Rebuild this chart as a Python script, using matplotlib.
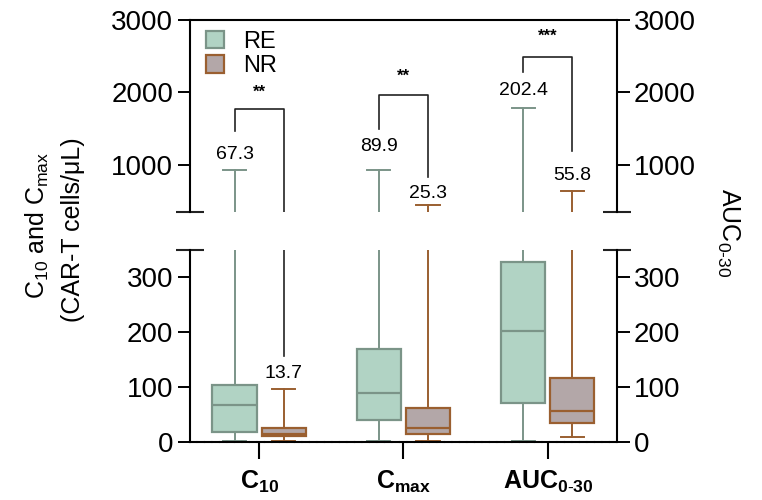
import numpy as np
import matplotlib.pyplot as plt
from matplotlib.patches import Patch

plt.rcParams['font.family'] = ['Liberation Sans', 'DejaVu Sans']
plt.rcParams['mathtext.fontset'] = 'custom'
plt.rcParams['mathtext.rm'] = 'Liberation Sans'
plt.rcParams['mathtext.it'] = 'Liberation Sans'
plt.rcParams['mathtext.bf'] = 'Liberation Sans:bold'

categories = [r'$\mathbf{C_{10}}$', r'$\mathbf{C_{max}}$', r'$\mathbf{AUC_{0\text{-}30}}$']

# box stats: min, q1, median, q3, max
re_min = [2, 1, 2]
re_q1 = [18, 41, 72]
re_med = [67.3, 89.9, 202.4]
re_q3 = [104, 170, 329]
re_max = [930, 935, 1780]

nr_min = [1, 2, 10]
nr_q1 = [11, 14, 34]
nr_med = [13.7, 25.3, 55.8]
nr_q3 = [26, 62, 117]
nr_max = [97, 440, 634]

stars = ['**', '**', '***']

re_fill, re_edge = '#b1d3c4', '#7b9488'
nr_fill, nr_edge = '#b3a7a8', '#9a5f30'

fig = plt.figure(figsize=(7.62, 5), dpi=100)
ax_top = fig.add_axes([0.249, 0.576, 0.561, 0.384])
ax_bot = fig.add_axes([0.249, 0.116, 0.561, 0.384])

x = np.arange(len(categories))
off = 0.17
bw = 0.305


def stats(mn, q1, md, q3, mx):
    return [dict(whislo=a, q1=b, med=c, q3=d, whishi=e, fliers=[])
            for a, b, c, d, e in zip(mn, q1, md, q3, mx)]


for ax in (ax_top, ax_bot):
    for st, pos, fc, ec in [(stats(re_min, re_q1, re_med, re_q3, re_max), x - off, re_fill, re_edge),
                            (stats(nr_min, nr_q1, nr_med, nr_q3, nr_max), x + off, nr_fill, nr_edge)]:
        ax.bxp(st, positions=pos, widths=bw, capwidths=0.16, patch_artist=True, showfliers=False,
               boxprops=dict(facecolor=fc, edgecolor=ec, linewidth=1.6),
               medianprops=dict(color=ec, linewidth=1.6),
               whiskerprops=dict(color=ec, linewidth=1.4),
               capprops=dict(color=ec, linewidth=1.4))
    ax.set_xlim(-0.48, 2.48)
    ax.tick_params(axis='y', labelsize=20, length=9, width=1.4, pad=3, right=True, labelright=True)
    ax.spines['left'].set_linewidth(1.5)
    ax.spines['right'].set_linewidth(1.5)

ax_top.set_ylim(350, 3000)
ax_top.set_yticks([1000, 2000, 3000])
ax_top.spines['bottom'].set_visible(False)
ax_top.spines['top'].set_linewidth(1.5)
ax_top.set_xticks([])

ax_bot.set_ylim(0, 350)
ax_bot.set_yticks([0, 100, 200, 300])
ax_bot.spines['top'].set_visible(False)
ax_bot.spines['bottom'].set_linewidth(1.5)
ax_bot.spines['bottom'].set_linestyle((0, (3, 0.6)))
ax_bot.set_xticks(x)
ax_bot.set_xticklabels(categories, fontsize=18)
ax_bot.tick_params(axis='x', length=12, width=1.5, pad=7)

# break marks at spine ends
ax_top.plot([0, 1], [0, 0], transform=ax_top.transAxes, marker='_', markersize=20,
            markeredgewidth=1.5, color='#222222', linestyle='none', clip_on=False)
ax_bot.plot([0, 1], [1, 1], transform=ax_bot.transAxes, marker='_', markersize=20,
            markeredgewidth=1.5, color='#222222', linestyle='none', clip_on=False)

# significance brackets
br_top = [1767, 1959, 2493]
br_left = [1466, 1490, 2288]
br_right = [None, 836, 1190]
star_y = [2000, 2220, 2780]
for i in range(3):
    xl, xr = x[i] - off, x[i] + off
    if br_right[i] is None:
        ax_top.plot([xl, xl, xr, xr], [br_left[i], br_top[i], br_top[i], 350], color='#222222', lw=1.2)
        ax_bot.plot([xr, xr], [350, 156], color='#222222', lw=1.2)
    else:
        ax_top.plot([xl, xl, xr, xr], [br_left[i], br_top[i], br_top[i], br_right[i]], color='#222222', lw=1.2)
    ax_top.text(x[i], star_y[i], stars[i], ha='center', va='center', fontsize=12, fontweight='bold')

# median labels
re_lab_y = [1150, 1250, 2030]
for i in range(3):
    ax_top.text(x[i] - off, re_lab_y[i], f'{re_med[i]:.1f}', ha='center', va='center', fontsize=14)
ax_bot.text(x[0] + off, 124, f'{nr_med[0]:.1f}', ha='center', va='center', fontsize=14)
nr_lab_y = [None, 600, 860]
for i in (1, 2):
    ax_top.text(x[i] + off, nr_lab_y[i], f'{nr_med[i]:.1f}', ha='center', va='center', fontsize=14)

handles = [Patch(facecolor=re_fill, edgecolor=re_edge, linewidth=1.6, label='RE'),
           Patch(facecolor=nr_fill, edgecolor=nr_edge, linewidth=1.6, label='NR')]
ax_top.legend(handles=handles, loc='upper left', bbox_to_anchor=(0.0, 1.03), frameon=False,
              fontsize=17, handlelength=0.75, handleheight=0.75, handletextpad=0.8,
              labelspacing=0.1, borderaxespad=0.3)

fig.text(37 / 762, 0.55, r'C$_{10}$ and C$_{max}$', rotation=90, ha='center', va='center', fontsize=18)
fig.text(73 / 762, 0.54, '(CAR-T cells/μL)', rotation=90, ha='center', va='center', fontsize=18)
fig.text(728 / 762, 0.535, r'AUC$_{0\text{-}30}$', rotation=270, ha='center', va='center', fontsize=18)

fig.savefig('out.png', dpi=100)
